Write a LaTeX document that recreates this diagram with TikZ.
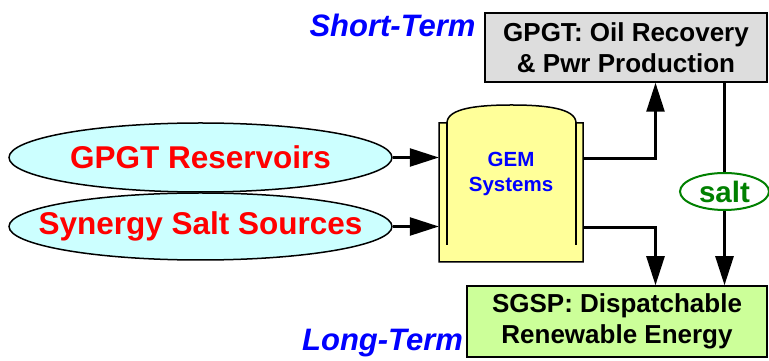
\documentclass[tikz,border=0pt]{standalone}
\usepackage{fontspec}
\setmainfont{Liberation Sans}
\usetikzlibrary{arrows.meta,shapes.geometric}
\definecolor{ellfill}{HTML}{CCFFFF}
\definecolor{tankfill}{HTML}{FFFF99}
\definecolor{boxgray}{HTML}{DDDDDD}
\definecolor{boxgreen}{HTML}{CCFF99}
\definecolor{txtred}{HTML}{FF0000}
\definecolor{txtblue}{HTML}{0000FF}
\definecolor{saltgreen}{HTML}{008000}
\tikzset{
  srcell/.style={ellipse, draw, line width=1.5pt, fill=ellfill, inner sep=0pt,
    minimum width=383pt},
  srctext/.style={text=txtred, font=\fontsize{31.5}{34}\selectfont\bfseries},
  termbox/.style={rectangle, draw, line width=1.5pt, inner sep=0pt, align=center,
    font=\fontsize{26}{31}\selectfont\bfseries},
  arr/.style={line width=2.5pt, -{Triangle[length=29pt,width=18pt]}},
  plain/.style={line width=2.5pt},
  termlabel/.style={text=txtblue, font=\fontsize{31}{34}\selectfont\bfseries\itshape}
}
\begin{document}
\begin{tikzpicture}[x=1pt,y=1pt]
\useasboundingbox (0,0) rectangle (769,361);
% source ellipses
\node[srcell, minimum height=69pt] (e1) at (200.5,203.5) {};
\node[srctext] (e1t) at (e1.center) {GPGT Reservoirs};
\node[srcell, minimum height=67pt] (e2) at (200.5,134.5) {};
\node[srctext] (e2t) at (e2.center) {Synergy Salt Sources};
% tank
\node[minimum width=144pt, minimum height=139pt, inner sep=0pt] (gem) at (511,168.5) {};
\draw[line width=1.5pt, fill=tankfill]
  (439,238) -- (439,99) -- (583,99) -- (583,238) -- (576,238)
  .. controls (576,253) and (544,256) .. (511.5,256)
  .. controls (479,256) and (447,253) .. (447,238) -- cycle;
\draw[line width=1.5pt] (447,238) -- (447,116);
\draw[line width=1.5pt] (576,238) -- (576,116);
\node[align=center, text=txtblue, font=\fontsize{20.5}{25}\selectfont\bfseries] (gemtxt) at (511,187) {GEM\\Systems};
% boxes
\node[termbox, fill=boxgray, minimum width=282pt, minimum height=69pt] (gpgt) at (626,313.5) {GPGT: Oil Recovery\\\& Pwr Production};
\node[termbox, fill=boxgreen, minimum width=300pt, minimum height=71pt] (sgsp) at (617,39.5) {SGSP: Dispatchable\\Renewable Energy};
% salt
\node[ellipse, draw=saltgreen, line width=2pt, fill=white, minimum width=89pt, minimum height=37pt, inner sep=0pt] (salt) at (724.5,169.5) {};
\node[text=saltgreen, font=\fontsize{29.5}{32}\selectfont\bfseries] (saltt) at (salt.center) {salt};
% term labels
\node[termlabel] (st) at (392.5,336) {Short-Term};
\node[termlabel] (lt) at (382.5,18) {Long-Term};
% connectors
\coordinate (colx) at (655.5,0);
\draw[arr] (e1.east) -- (e1.east -| gem.west);
\draw[arr] (e2.east) -- (e2.east -| gem.west);
\draw[arr] ([yshift=-1pt]e1.east -| gem.east) -| (colx |- gpgt.south);
\draw[arr] ([yshift=-1pt]e2.east -| gem.east) -| (colx |- sgsp.north);
\draw[plain] (gpgt.south -| salt.north) -- (salt.north);
\draw[arr] (salt.south) -- (salt.south |- sgsp.north);
\end{tikzpicture}
\end{document}
